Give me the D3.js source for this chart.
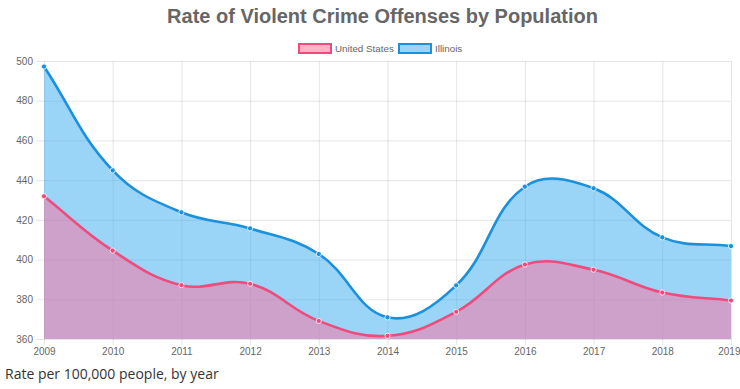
<!DOCTYPE html>
<html>
<head>
<meta charset="utf-8">
<script src="https://cdn.jsdelivr.net/npm/d3@7"></script>
<style>
  body { margin: 0; background: #fff; }
  svg { display: block; }
  .grid line { stroke: rgba(0,0,0,0.1); }
  .grid path { display: none; }
  .axis text { fill: #666; font-family: "Liberation Sans", Arial, sans-serif; font-size: 10px; }
  .axis line { stroke: rgba(0,0,0,0.1); }
  .axis path { display: none; }
</style>
</head>
<body>
<svg width="740" height="389"></svg>
<script>
const years = [2009, 2010, 2011, 2012, 2013, 2014, 2015, 2016, 2017, 2018, 2019];
const unitedStates = [431.9, 404.5, 387.1, 387.8, 369.1, 361.6, 373.7, 397.5, 394.9, 383.4, 379.4];
const illinois = [497.2, 444.9, 423.8, 415.7, 402.8, 370.9, 387.0, 436.7, 435.9, 411.2, 406.8];
const yTicks = [360, 380, 400, 420, 440, 460, 480, 500];

const seriesList = [
    { name: "Illinois", values: illinois, line: "#1b90dc", fill: "rgba(54,170,240,0.5)", box: "#9dd3f7" },
    { name: "United States", values: unitedStates, line: "#ef4b7c", fill: "rgba(255,110,155,0.5)", box: "#ffb3c4" }
];

const width = 740,
    height = 389,
    margin = { top: 61, right: 9, bottom: 50, left: 44 };

const svg = d3.select("svg");

const x = d3.scalePoint()
    .domain(years)
    .range([margin.left, width - margin.right]);

const y = d3.scaleLinear()
    .domain([360, 500])
    .range([height - margin.bottom, margin.top]);

const plotLeft = x.range()[0], plotRight = x.range()[1],
    plotTop = y.range()[1], plotBottom = y.range()[0];

// gridlines
svg.append("g")
    .attr("class", "grid")
    .attr("transform", "translate(" + plotLeft + ",0)")
    .call(d3.axisLeft(y).tickValues(yTicks).tickSize(-(plotRight - plotLeft)).tickFormat(""));

svg.append("g")
    .attr("class", "grid")
    .attr("transform", "translate(0," + plotBottom + ")")
    .call(d3.axisBottom(x).tickSize(-(plotBottom - plotTop)).tickFormat(""));

// axes with little tick marks outside the plot
svg.append("g")
    .attr("class", "axis")
    .attr("transform", "translate(" + plotLeft + ",0)")
    .call(d3.axisLeft(y).tickValues(yTicks).tickSize(8).tickPadding(3));

const xAxis = svg.append("g")
    .attr("class", "axis")
    .attr("transform", "translate(0," + plotBottom + ")")
    .call(d3.axisBottom(x).tickSize(6).tickPadding(3));

// keep the last year label inside the window
xAxis.selectAll(".tick:last-of-type text").attr("text-anchor", "end").attr("dx", "0.9em");

// bezier like chart.js (tension 0.4)
function splinePoints(vals) {
    const pts = vals.map((v, i) => ({ x: x(years[i]), y: y(v) }));
    const t = 0.4;
    pts.forEach((cur, i) => {
        const prev = pts[i - 1] || cur, next = pts[i + 1] || cur;
        const d01 = Math.hypot(cur.x - prev.x, cur.y - prev.y);
        const d12 = Math.hypot(next.x - cur.x, next.y - cur.y);
        let s01 = d01 / (d01 + d12), s12 = d12 / (d01 + d12);
        if (isNaN(s01)) s01 = 0;
        if (isNaN(s12)) s12 = 0;
        const fa = t * s01, fb = t * s12;
        cur.c1x = cur.x - fa * (next.x - prev.x);
        cur.c1y = Math.max(plotTop, Math.min(plotBottom, cur.y - fa * (next.y - prev.y)));
        cur.c2x = cur.x + fb * (next.x - prev.x);
        cur.c2y = Math.max(plotTop, Math.min(plotBottom, cur.y + fb * (next.y - prev.y)));
    });
    return pts;
}

function linePath(pts, p) {
    p.moveTo(pts[0].x, pts[0].y);
    for (let i = 1; i < pts.length; i++) {
        const a = pts[i - 1], b = pts[i];
        p.bezierCurveTo(a.c2x, a.c2y, b.c1x, b.c1y, b.x, b.y);
    }
    return p;
}

const plot = svg.append("g");

seriesList.forEach(s => {
    const pts = splinePoints(s.values);

    const area = linePath(pts, d3.path());
    area.lineTo(pts[pts.length - 1].x, plotBottom);
    area.lineTo(pts[0].x, plotBottom);
    area.closePath();
    plot.append("path")
        .attr("d", area.toString())
        .attr("fill", s.fill);
});

seriesList.forEach(s => {
    const pts = splinePoints(s.values);
    plot.append("path")
        .attr("d", linePath(pts, d3.path()).toString())
        .attr("fill", "none")
        .attr("stroke", s.line)
        .attr("stroke-width", 2.6);

    plot.selectAll(null)
        .data(pts)
        .enter().append("circle")
        .attr("cx", d => d.x)
        .attr("cy", d => d.y)
        .attr("r", 2.6)
        .attr("fill", s.line)
        .attr("stroke", "rgba(255,255,255,0.8)")
        .attr("stroke-width", 1);
});

// title
svg.append("text")
    .attr("x", (plotLeft + plotRight) / 2 - 5)
    .attr("y", 23)
    .attr("text-anchor", "middle")
    .style("font-family", "'Liberation Sans', Arial, sans-serif")
    .style("font-weight", "bold")
    .style("font-size", "20px")
    .style("fill", "#666")
    .text("Rate of Violent Crime Offenses by Population");

// legend
const legendItems = [seriesList[1], seriesList[0]];
const legendX = [298, 398];
const legend = svg.append("g");
legendItems.forEach((s, i) => {
    legend.append("rect")
        .attr("x", legendX[i] + 1)
        .attr("y", 44)
        .attr("width", 32)
        .attr("height", 9)
        .attr("fill", s.box)
        .attr("stroke", s.line)
        .attr("stroke-width", 2);
    legend.append("text")
        .attr("x", legendX[i] + 37)
        .attr("y", 52)
        .style("font-family", "'Liberation Sans', Arial, sans-serif")
        .style("font-size", "9.8px")
        .style("fill", "#666")
        .text(s.name);
});

// caption below the chart
svg.append("text")
    .attr("x", 5)
    .attr("y", 379)
    .style("font-family", "'Open Sans', sans-serif")
    .style("font-size", "14px")
    .style("fill", "#333")
    .text("Rate per 100,000 people, by year");
</script>
</body>
</html>
